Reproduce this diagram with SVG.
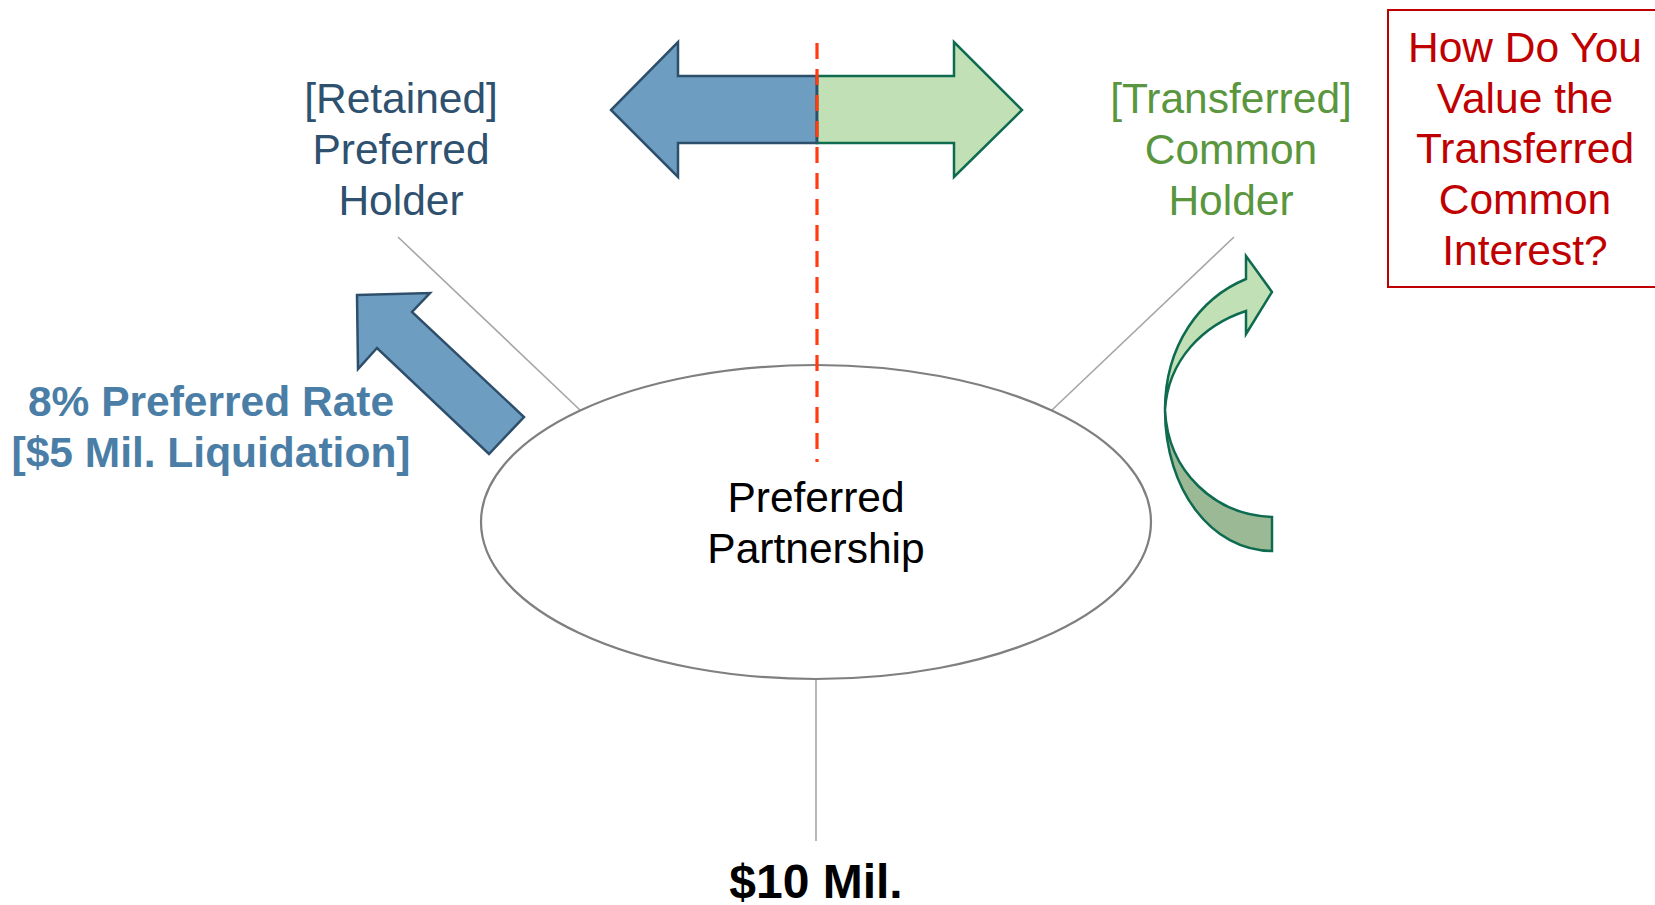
<svg xmlns="http://www.w3.org/2000/svg" width="1655" height="905" viewBox="0 0 1655 905">
<style>
text{font-family:"Liberation Sans",Arial,sans-serif;text-anchor:middle}
.t{font-size:42.5px}
.b{font-size:42.5px;font-weight:bold}
.conn{stroke:#A6A6A6;stroke-width:1.6;fill:none}
.blue{fill:#6D9DC0;stroke:#2E4F6B;stroke-width:2.5;stroke-linejoin:miter}
.green{fill:#C2E0B6;stroke:#0E6B50;stroke-width:2.5;stroke-linejoin:miter}
</style>
<rect width="1655" height="905" fill="#fff"/>
<g id="connectors">
<line class="conn" x1="398" y1="237" x2="580" y2="410"/>
<line class="conn" x1="1234" y1="237" x2="1052" y2="410"/>
<line class="conn" x1="816" y1="680" x2="816" y2="841"/>
</g>
<g id="partnership">
<ellipse cx="816" cy="522" rx="335" ry="157" fill="#fff" stroke="#7F7F7F" stroke-width="2.2"/>
<text class="t" x="816" y="512" fill="#000">Preferred</text>
<text class="t" x="816" y="563" fill="#000">Partnership</text>
</g>
<g id="double-arrow">
<path class="blue" d="M817,76 L678,76 L678,42 L611,110 L678,177 L678,143 L817,143 Z"/>
<path class="green" d="M817,76 L954,76 L954,42 L1022,110 L954,177 L954,143 L817,143 Z"/>
<line x1="817" y1="76" x2="817" y2="143" stroke="#2E4F6B" stroke-width="2.5"/>
</g>
<g id="divider">
<line x1="817" y1="43" x2="817" y2="462" stroke="#FF3B10" stroke-width="3.2" stroke-dasharray="16,10"/>
</g>
<g id="retained-holder">
<text class="t" x="401" y="113" fill="#2F5170">[Retained]</text>
<text class="t" x="401" y="164" fill="#2F5170">Preferred</text>
<text class="t" x="401" y="215" fill="#2F5170">Holder</text>
</g>
<g id="transferred-holder">
<text class="t" x="1231" y="113" fill="#5A963E">[Transferred]</text>
<text class="t" x="1231" y="164" fill="#5A963E">Common</text>
<text class="t" x="1231" y="215" fill="#5A963E">Holder</text>
</g>
<g id="preferred-rate">
<path class="blue" d="M357,295 L430,293 L412,312 L524,417 L489,454 L377,348 L358,369 Z"/>
<text class="b" x="211" y="416" fill="#4A7EA6">8% Preferred Rate</text>
<text class="b" x="211" y="467" fill="#4A7EA6">[$5 Mil. Liquidation]</text>
</g>
<g id="curved-arrow">
<path fill="#9CB996" stroke="#0E6B50" stroke-width="2.5" d="M1165,410 C1165,490 1212,551 1272,551 L1272,517 C1215,515 1168,472 1165,410 Z"/>
<path class="green" d="M1165,410 C1165,345 1200,298 1246,279 L1246,256 L1272,292 L1246,334 L1246,311 C1203,325 1168,360 1165,410 Z"/>
</g>
<g id="question">
<rect x="1388" y="10" width="270" height="277" fill="#fff" stroke="#C00000" stroke-width="2"/>
<text class="t" x="1525" y="62" fill="#C00000">How Do You</text>
<text class="t" x="1525" y="113" fill="#C00000">Value the</text>
<text class="t" x="1525" y="163" fill="#C00000">Transferred</text>
<text class="t" x="1525" y="214" fill="#C00000">Common</text>
<text class="t" x="1525" y="265" fill="#C00000">Interest?</text>
</g>
<g id="amount">
<text x="816" y="898" font-size="48" font-weight="bold" fill="#000">$10 Mil.</text>
</g>
</svg>
